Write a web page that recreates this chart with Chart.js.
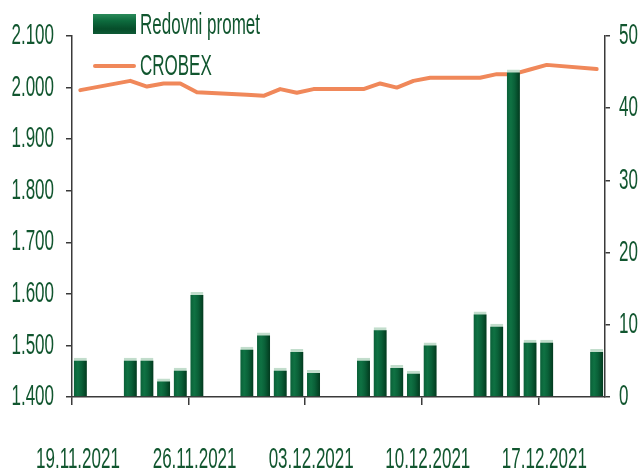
<!DOCTYPE html>
<html>
<head>
<meta charset="utf-8">
<script src="https://cdn.jsdelivr.net/npm/chart.js@4.4.0/dist/chart.umd.min.js"></script>
<style>
  html, body { margin: 0; padding: 0; background: #ffffff; }
  #wrap { position: relative; width: 641px; height: 472px; }
  .sw-bar { position: absolute; left: 93px; top: 14px; width: 43px; height: 20px;
            background: linear-gradient(to bottom, #2a8a5a 0%, #0d6a3d 35%, #064d2a 75%, #0e5a35 100%); }
  .sw-line { position: absolute; left: 93px; top: 64px; width: 43px; height: 4px; background: #f0885a; border-radius: 2px; }
  .leg-t { position: absolute; left: 140px; height: 20px; line-height: 20px;
           font-family: "Liberation Sans", Arial, sans-serif; font-size: 17px; color: #11562f;
           white-space: nowrap; transform: scaleY(1.75); transform-origin: 0 50%; }
</style>
</head>
<body>
<div id="wrap">
  <canvas id="c"></canvas>
  <div class="sw-bar"></div>
  <div class="leg-t" style="top:15px;">Redovni promet</div>
  <div class="sw-line"></div>
  <div class="leg-t" style="top:56px;">CROBEX</div>
</div>
<script>
// ---- data ----
const tradeDates = ["19.11.2021","22.11.2021","23.11.2021","24.11.2021","25.11.2021","26.11.2021",
                    "29.11.2021","30.11.2021","01.12.2021","02.12.2021","03.12.2021",
                    "06.12.2021","07.12.2021","08.12.2021","09.12.2021","10.12.2021",
                    "13.12.2021","14.12.2021","15.12.2021","16.12.2021","17.12.2021","20.12.2021"];
const redovniPromet = [5.4, 5.4, 5.4, 2.5, 4.0, 14.5,
                       6.9, 8.9, 4.0, 6.6, 3.7,
                       5.4, 9.6, 4.4, 3.6, 7.5,
                       11.8, 10.1, 45.3, 7.9, 7.9, 6.6];
const crobex = [1995, 2013, 2002, 2008, 2008, 1991,
                1986, 1984, 1997, 1990, 1997,
                1997, 2008, 2000, 2013, 2019,
                2019, 2026, 2026, 2035, 2044, 2036];
const xTickLabels = ["19.11.2021","26.11.2021","03.12.2021","10.12.2021","17.12.2021"];
const axisEndDate = "21.12.2021";
const leftTicks = [1400, 1500, 1600, 1700, 1800, 1900, 2000, 2100];
const rightTicks = [0, 10, 20, 30, 40, 50];

// ---- helpers ----
function toDay(s) {
  const [d, m, y] = s.split('.').map(Number);
  return Math.round(Date.UTC(y, m - 1, d) / 86400000);
}
const day0 = toDay(xTickLabels[0]);
const dayOf = s => toDay(s) - day0;
const fmtThousand = v => Math.floor(v / 1000) + '.' + String(v % 1000).padStart(3, '0');

const barPoints = tradeDates.map((d, i) => ({ x: dayOf(d) + 0.5, y: redovniPromet[i] }));
const linePoints = tradeDates.map((d, i) => ({ x: dayOf(d) + 0.5, y: crobex[i] }));
const xTickValues = xTickLabels.map(dayOf);

const FONT = "'Liberation Sans', Arial, sans-serif";
const TEXT = '#11562f';
const AXIS = '#3a3a3a';
const TEXT_STRETCH = 1.75;

// tall, narrow lettering like the reference: stretch each text draw vertically about its anchor
const canvas = document.getElementById('c');
const c2d = canvas.getContext('2d');
const origFillText = c2d.fillText.bind(c2d);
c2d.fillText = function (t, x, y, mw) {
  this.save();
  this.translate(x, y);
  this.scale(1, TEXT_STRETCH);
  if (mw === undefined) origFillText(t, 0, 0); else origFillText(t, 0, 0, mw);
  this.restore();
};

function barFill(ctx) {
  const chart = ctx.chart;
  const xs = chart.scales && chart.scales.x;
  if (ctx.type !== 'data' || !xs || !ctx.raw) return '#0b5c36';
  const cx = xs.getPixelForValue(ctx.raw.x);
  if (!isFinite(cx)) return '#0b5c36';
  const g = chart.ctx.createLinearGradient(cx - 6.5, 0, cx + 6.5, 0);
  g.addColorStop(0, '#0a6038');
  g.addColorStop(0.3, '#0f7243');
  g.addColorStop(0.6, '#0a6038');
  g.addColorStop(1, '#023a1e');
  return g;
}

new Chart(canvas, {
  data: {
    datasets: [
      {
        type: 'bar', label: 'Redovni promet', data: barPoints, yAxisID: 'y1', order: 0,
        backgroundColor: barFill, borderColor: '#c2ddcc',
        borderWidth: { top: 3, left: 0, right: 0, bottom: 0 }, borderSkipped: 'bottom',
        barThickness: 13
      },
      {
        type: 'line', label: 'CROBEX', data: linePoints, yAxisID: 'y', order: 1,
        borderColor: '#f0885a', borderWidth: 4, pointRadius: 0, tension: 0,
        borderCapStyle: 'round', borderJoinStyle: 'round'
      }
    ]
  },
  options: {
    responsive: true, maintainAspectRatio: false, animation: false,
    layout: { padding: { top: 36, left: 0, right: 0, bottom: 0 } },
    plugins: { legend: { display: false }, tooltip: { enabled: false } },
    scales: {
      x: {
        type: 'linear', min: 0, max: dayOf(axisEndDate), offset: false,
        afterBuildTicks: ax => { ax.ticks = xTickValues.map(v => ({ value: v })); },
        afterFit: ax => { ax.height = 75; ax.paddingLeft = 0; ax.paddingRight = 0; },
        ticks: {
          callback: (v) => { const i = xTickValues.indexOf(v); return i >= 0 ? xTickLabels[i] : ''; },
          font: { family: FONT, size: 17 }, color: TEXT, padding: 45, labelOffset: 6,
          maxRotation: 0, autoSkip: false
        },
        grid: { offset: false, drawOnChartArea: false, drawTicks: true, tickLength: 8, color: AXIS, lineWidth: 1.5 },
        border: { display: true, color: AXIS, width: 1.5 }
      },
      y: {
        type: 'linear', position: 'left', min: 1400, max: 2100,
        afterBuildTicks: ax => { ax.ticks = leftTicks.map(v => ({ value: v })); },
        afterFit: ax => { ax.width = 72; },
        ticks: { callback: v => fmtThousand(v), font: { family: FONT, size: 17 }, color: TEXT, padding: 12 },
        grid: { drawOnChartArea: false, drawTicks: true, tickLength: 6, color: AXIS, lineWidth: 1.5 },
        border: { display: true, color: AXIS, width: 1.5 }
      },
      y1: {
        type: 'linear', position: 'right', min: 0, max: 50,
        afterBuildTicks: ax => { ax.ticks = rightTicks.map(v => ({ value: v })); },
        afterFit: ax => { ax.width = 36; },
        ticks: { font: { family: FONT, size: 17 }, color: TEXT, padding: 9 },
        grid: { drawOnChartArea: false, drawTicks: true, tickLength: 5, color: AXIS, lineWidth: 1.5 },
        border: { display: true, color: AXIS, width: 1.5 }
      }
    }
  }
});
</script>
</body>
</html>
